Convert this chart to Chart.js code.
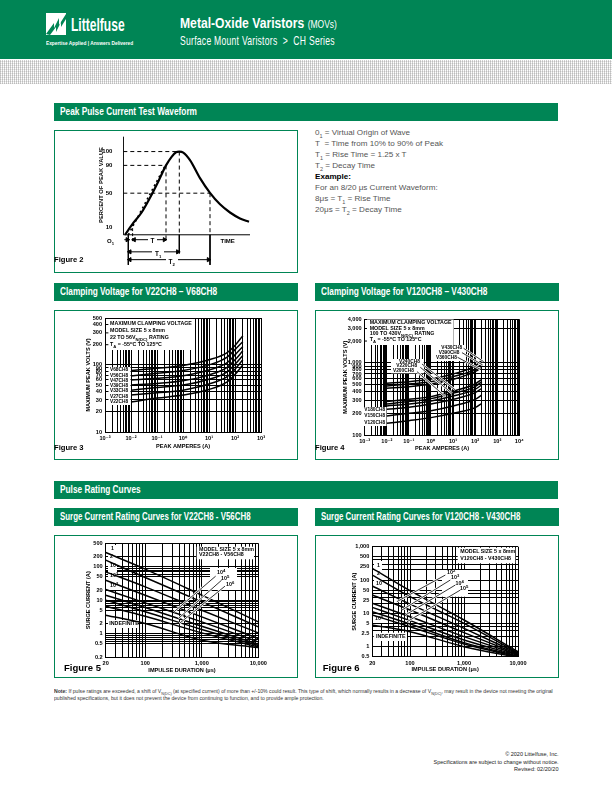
<!DOCTYPE html>
<html>
<head>
<meta charset="utf-8">
<title>CH Series</title>
<script src="https://cdn.jsdelivr.net/npm/chart.js@4"></script>
<style>
html, body { margin: 0; padding: 0; background: #fff; }
body { position: relative; width: 612px; height: 792px; overflow: hidden; font-family: "Liberation Sans", Arial, sans-serif; color: #000; }
.abs { position: absolute; white-space: nowrap; transform-origin: left center; }
.green { position: absolute; background: #008555; }
.band { position: absolute; background: #008555; color: #fff; font: bold 10px/18px "Liberation Sans", sans-serif; padding-left: 6px; box-sizing: border-box; height: 18px; white-space: nowrap; overflow: hidden; }
.band span { display: inline-block; transform: scaleX(.83); transform-origin: left center; }
.box { position: absolute; border: 1px solid #008555; box-sizing: border-box; }
canvas { position: absolute; }
.dots { position: absolute; left: 0; top: 60px; width: 612px; height: 24px;
  background-image:
    repeating-linear-gradient(90deg, #cfcfcf 0 1px, #fff 1px 2px),
    repeating-linear-gradient(0deg, #e8e8e8 0 1px, #fff 1px 2px);
  background-blend-mode: multiply; }
.note { position: absolute; white-space: nowrap; transform: translateY(-50%); font: bold 5.3px/1 "Liberation Sans", sans-serif; }
.note sub { font-size: 4.2px; line-height: 0; }
.note sup { font-size: 4.2px; line-height: 0; }
.side { position: absolute; left: 315px; white-space: nowrap; transform: translateY(-50%); font: 8.1px/1 "Liberation Sans", sans-serif; color: #555; }
.side sub { font-size: 5.5px; line-height: 0; }
.fig { position: absolute; white-space: nowrap; transform: translateY(-50%); font: bold 7.6px/1 "Liberation Sans", sans-serif; }
</style>
</head>
<body>
<div class="green" style="left:0;top:0;width:612px;height:59px"></div>
<div class="dots"></div>

<svg style="position:absolute;left:46px;top:13px" width="20" height="22" viewBox="0 0 20 22">
  <rect width="20" height="22" fill="#fff"/>
  <path d="M0 21 L8 10 L8 15 L13 5 L13 12 L20 1 L20 6 L15 14 L15 9 L10 19 L10 14 L4 22 Z" fill="#008555"/>
</svg>
<div class="abs" style="left:71px;top:16px;color:#fff;font:bold 18px/1 'Liberation Sans',sans-serif;transform:scaleX(.67)">Littelfuse</div>
<div class="abs" style="left:46px;top:46px;color:#fff;font:bold 6px/1 'Liberation Sans',sans-serif;transform:scaleX(.8);margin-top:-6px">Expertise Applied | Answers Delivered</div>
<div class="abs" style="left:180px;top:15px;color:#fff;font:bold 15px/1 'Liberation Sans',sans-serif;transform:scaleX(.81)">Metal-Oxide Varistors <span style="font:10.5px 'Liberation Sans',sans-serif">(MOVs)</span></div>
<div class="abs" style="left:180px;top:34px;color:#fff;font:13px/1 'Liberation Sans',sans-serif;letter-spacing:.4px;transform:scaleX(.66)">Surface Mount Varistors&nbsp; &gt;&nbsp; CH Series</div>

<div class="band" style="left:54px;top:103px;width:504px"><span>Peak Pulse Current Test Waveform</span></div>
<div class="band" style="left:54px;top:283px;width:244px"><span>Clamping Voltage for V22CH8 – V68CH8</span></div>
<div class="band" style="left:315px;top:283px;width:244px"><span>Clamping Voltage for V120CH8 – V430CH8</span></div>
<div class="band" style="left:54px;top:481px;width:504px"><span>Pulse Rating Curves</span></div>
<div class="band" style="left:54px;top:508px;width:244px"><span style="transform:scaleX(.79)">Surge Current Rating Curves for V22CH8 - V56CH8</span></div>
<div class="band" style="left:315px;top:508px;width:244px"><span style="transform:scaleX(.79)">Surge Current Rating Curves for V120CH8 - V430CH8</span></div>

<div class="box" style="left:54px;top:130px;width:244px;height:143px"></div>
<div class="box" style="left:54px;top:310px;width:244px;height:150px"></div>
<div class="box" style="left:315px;top:310px;width:244px;height:150px"></div>
<div class="box" style="left:54px;top:535px;width:244px;height:143px"></div>
<div class="box" style="left:315px;top:535px;width:244px;height:143px"></div>

<canvas id="fig2" style="left:54px;top:130px" width="244" height="143"></canvas>
<canvas id="fig3" style="left:54px;top:310px" width="244" height="150"></canvas>
<canvas id="fig4" style="left:315px;top:310px" width="244" height="150"></canvas>
<canvas id="fig5" style="left:54px;top:535px" width="244" height="143"></canvas>
<canvas id="fig6" style="left:315px;top:535px" width="244" height="143"></canvas>

<div class="side" style="top:133px">0<sub>1</sub> = Virtual Origin of Wave</div>
<div class="side" style="top:144px">T&nbsp; = Time from 10% to 90% of Peak</div>
<div class="side" style="top:155px">T<sub>1</sub> = Rise Time = 1.25 x T</div>
<div class="side" style="top:166px">T<sub>2</sub> = Decay Time</div>
<div class="side" style="top:177px;font-weight:bold;color:#000">Example:</div>
<div class="side" style="top:188px">For an 8/20 μs Current Waveform:</div>
<div class="side" style="top:199px">8μs = T<sub>1</sub> = Rise Time</div>
<div class="side" style="top:210px">20μs = T<sub>2</sub> = Decay Time</div>

<div class="abs" style="left:54px;top:688px;font:5.6px/7px 'Liberation Sans',sans-serif;color:#333;transform:scaleX(.915);transform-origin:left top"><b>Note:</b> If pulse ratings are exceeded, a shift of V<sub style="font-size:4px;line-height:0">N(DC)</sub> (at specified current) of more than +/-10% could result. This type of shift, which normally results in a decrease of V<sub style="font-size:4px;line-height:0">N(DC)</sub>, may result in the device not meeting the original<br>published specifications, but it does not prevent the device from continuing to function, and to provide ample protection.</div>
<div class="abs" style="right:54px;top:751px;text-align:right;font:5.8px/7.5px 'Liberation Sans',sans-serif;color:#222;transform:scaleX(.95);transform-origin:right top">© 2020 Littelfuse, Inc.<br>Specifications are subject to change without notice.<br>Revised: 02/20/20</div>

<script>
// Figure 2 waveform (time in arbitrary units from O1, percent as drawn on the schematic)
const waveTime = [-3.3, 5, 13.3, 21.7, 30, 37.7, 43.3, 47.7, 51, 55, 61.7, 71.7, 81.7, 91.7, 101.7, 111.7, 120.7];
const wavePercent = [0, 14.2, 26.8, 44.5, 64.1, 83.4, 93.7, 99.2, 100, 98.8, 89.7, 68.1, 50.4, 36.6, 26.8, 19.7, 15.7];
const fig2YTicks = [9, 50, 83.4, 100];
const fig2YLabels = ['10', '50', '90', '100'];

// Figure 3
const fig3Amps = [0.01, 0.1, 1, 10, 50, 100, 200];
const v22 = [28, 32, 35.5, 43, 56, 72, 100];
const v27 = [35.5, 38.4, 42, 51.8, 66.8, 86, 119];
const v33 = [42, 46, 50, 61, 79, 102, 138];
const v39 = [50, 53, 58, 71, 92, 119, 162];
const v47 = [59.6, 63, 69, 84, 108, 141, 188];
const v56 = [68.4, 75, 82.5, 100, 131, 169, 222];
const v68 = [82.5, 89, 98, 119, 153, 195, 272];
const fig3XLabelValues = [0.001, 0.01, 0.1, 1, 10, 100, 1000];
const fig3XLabels = ['10⁻³', '10⁻²', '10⁻¹', '10⁰', '10¹', '10²', '10³'];
const fig3YTicks = [10, 20, 30, 40, 50, 60, 70, 80, 90, 100, 200, 300, 400, 500];
const fig3YLabels = ['10', '20', '30', '40', '50', '60', '70', '80', '90', '100', '200', '300', '400', '500'];

// Figure 4
const fig4Amps = [0.01, 0.1, 1, 10, 100, 200];
const v120 = [145, 158, 174, 200, 239, 275];
const v150 = [183, 200, 217, 252, 312, 358];
const v180 = [227, 242, 269, 312, 386, 443];
const v200 = [252, 269, 296, 347, 429, 493];
const v220 = [269, 290, 319, 378, 467, 548];
const v240 = [290, 312, 340, 407, 509, 590];
const v360 = [443, 467, 509, 590, 754, 866];
const v390 = [477, 509, 548, 643, 812, 962];
const v430 = [519, 548, 597, 700, 903, 1094];
const fig4XLabelValues = [0.001, 0.01, 0.1, 1, 10, 100, 1000, 10000];
const fig4XLabels = ['10⁻³', '10⁻²', '10⁻¹', '10⁰', '10¹', '10²', '10³', '10⁴'];
const fig4YTicks = [100, 200, 300, 400, 500, 600, 700, 800, 900, 1000, 2000, 3000, 4000];
const fig4YLabels = ['100', '200', '300', '400', '500', '600', '700', '800', '900', '1,000', '2,000', '3,000', '4,000'];

// Figure 5
const fig5Micros = [20, 100, 1000, 10000];
const f5once = [265, 85, 14.2, 2.28];
const f5twice = [157, 47.8, 9, 1.62];
const f5e1 = [70.5, 25.2, 5.07, 1.07];
const f5e2 = [39.8, 14.2, 3.21, 0.726];
const f5e3 = [21, 8.4, 2.28, 0.578];
const f5e4 = [14.2, 6.1, 1.69, 0.492];
const f5e5 = [10.1, 4.53, 1.35, 0.449];
const f5e6 = [6.68, 3.36, 1.07, 0.41];
const f5indef = [3.6, 2.03, 0.647, 0.389];
const fig5XTicks = [20, 30, 40, 50, 60, 70, 80, 90, 100, 200, 300, 400, 500, 600, 700, 800, 900, 1000, 2000, 3000, 4000, 5000, 6000, 7000, 8000, 9000, 10000];
const fig5XLabelValues = [20, 100, 1000, 10000];
const fig5XLabels = ['20', '100', '1,000', '10,000'];
const fig5YTicks = [0.2, 0.5, 0.6, 0.7, 0.8, 0.9, 1, 2, 5, 6, 7, 8, 9, 10, 20, 50, 60, 70, 80, 90, 100, 200, 500];
const fig5YLabelValues = [0.2, 0.5, 1, 2, 5, 10, 20, 50, 100, 200, 500];
const fig5YLabels = ['0.2', '0.5', '1', '2', '5', '10', '20', '50', '100', '200', '500'];

// Figure 6
const f6once = [224, 47.9, 6.31, 0.708];
const f6twice = [141, 31.6, 5.01, 0.66];
const f6e1 = [66, 19, 3.55, 0.63];
const f6e2 = [35.5, 12.6, 2.63, 0.6];
const f6e3 = [20, 7.94, 2, 0.575];
const f6e4 = [15.1, 6.03, 1.58, 0.55];
const f6e5 = [11.2, 4.79, 1.32, 0.525];
const f6e6 = [8.9, 3.98, 1.2, 0.5];
const f6indef = [4.47, 2.82, 1, 0.48];
const fig6YTicks = [0.5, 1, 2, 2.5, 3, 4, 5, 10, 20, 25, 30, 40, 50, 100, 200, 250, 300, 400, 500, 1000];
const fig6YLabelValues = [0.5, 1, 2.5, 5, 10, 25, 50, 100, 250, 500, 1000];
const fig6YLabels = ['0.5', '1', '2.5', '5', '10', '25', '50', '100', '250', '500', '1,000'];

function decades(lo, hi) {
    const out = [];
    for (let e = lo; e < hi; e++) {
        for (let m = 1; m < 10; m++) out.push(Number(m + 'e' + e));
    }
    out.push(Number('1e' + hi));
    return out;
}

function pairs(xs, ys) {
    return xs.map((x, i) => ({ x: x, y: ys[i] }));
}

function curve(xs, ys) {
    return { data: pairs(xs, ys), borderColor: '#000', borderWidth: 1.5, pointRadius: 0, cubicInterpolationMode: 'monotone', order: 3, clip: true };
}

// leader line with the white edge it has in the print
function leader(a, b) {
    return [
        { data: [a, b], borderColor: '#000', borderWidth: 0.8, pointRadius: 0, order: 1 },
        { data: [a, b], borderColor: '#fff', borderWidth: 2.2, pointRadius: 0, order: 2 }
    ];
}

function labelFor(values, labels) {
    return v => {
        const i = values.findIndex(l => Math.abs(v / l - 1) < 1e-6);
        return i < 0 ? '' : labels[i];
    };
}

function note(text, x, y, extra) {
    const el = document.createElement('div');
    el.className = 'note';
    el.innerHTML = text;
    el.style.left = x + 'px';
    el.style.top = y + 'px';
    if (extra) el.style.cssText += extra;
    document.body.appendChild(el);
}

function figLabel(text, x, y, size) {
    const el = document.createElement('div');
    el.className = 'fig';
    el.textContent = text;
    el.style.left = x + 'px';
    el.style.top = y + 'px';
    if (size) el.style.fontSize = size + 'px';
    document.body.appendChild(el);
}

const tickFont = { family: "'Liberation Sans', 'DejaVu Sans', sans-serif", size: 5.6, weight: 'bold' };
const partFont = 'font-size:4.8px';

function logChart(id, f) {
    const [bx, by, bw, bh] = f.box;
    const [px, py, pw, ph] = f.plot;
    const whiteBoxes = {
        id: 'whiteBoxes',
        beforeDatasetsDraw(chart) {
            chart.ctx.save();
            chart.ctx.fillStyle = '#fff';
            f.rects.forEach(r => chart.ctx.fillRect(r[0] - bx, r[1] - by, r[2] - r[0], r[3] - r[1]));
            chart.ctx.restore();
        }
    };
    return new Chart(document.getElementById(id), {
        type: 'line',
        data: { datasets: f.datasets },
        plugins: [whiteBoxes],
        options: {
            responsive: false,
            animation: false,
            devicePixelRatio: 1,
            events: [],
            layout: { padding: { left: 0, top: py - by, right: bx + bw - px - pw, bottom: 0 } },
            plugins: { legend: { display: false }, tooltip: { enabled: false } },
            scales: {
                x: {
                    type: 'logarithmic', min: f.xLim[0], max: f.xLim[1],
                    afterBuildTicks: s => { s.ticks = f.xTicks.map(v => ({ value: v })); },
                    afterFit: s => { s.height = by + bh - py - ph; },
                    grid: { color: '#000', lineWidth: 1, drawTicks: false },
                    border: { color: '#000', width: 1 },
                    ticks: { autoSkip: false, maxRotation: 0, minRotation: 0, padding: 3, color: '#000', font: tickFont, callback: f.xLabel },
                    title: { display: true, text: f.xTitle, color: '#000', font: tickFont, padding: { top: 0, bottom: by + bh - f.xTitleY - 3 } }
                },
                y: {
                    type: 'logarithmic', min: f.yLim[0], max: f.yLim[1],
                    afterBuildTicks: s => { s.ticks = f.yTicks.map(v => ({ value: v })); },
                    afterFit: s => { s.width = px - bx; },
                    grid: { color: c => (c.tick && f.noGrid.includes(c.tick.value) ? 'rgba(0,0,0,0)' : '#000'), lineWidth: 1, drawTicks: false },
                    border: { color: '#000', width: 1 },
                    ticks: { autoSkip: false, padding: 3, color: '#000', font: tickFont, callback: f.yLabel },
                    title: { display: true, text: f.yTitle, color: '#000', font: tickFont, padding: { top: f.yTitleX - bx - 3, bottom: 0 } }
                }
            }
        }
    });
}

// Figure 2, schematic on plain linear scales
function line(points, width, dash) {
    return { data: points, borderColor: '#000', borderWidth: width, borderDash: dash || [], pointRadius: 0 };
}
function arrow(x1, x2, y) {
    return { data: [{ x: x1, y: y }, { x: x2, y: y }], borderColor: '#000', backgroundColor: '#000', borderWidth: 1, pointStyle: 'triangle', pointRadius: 2.4, pointRotation: [-90, 90] };
}
const dashA = [4, 3];
const peakX = 51, riseX = 37.7, decayX = 81.7, tenX = 4.3, axisX = -5;
new Chart(document.getElementById('fig2'), {
    type: 'line',
    data: {
        datasets: [
            Object.assign(line(pairs(waveTime, wavePercent), 2.2), { cubicInterpolationMode: 'monotone' }),
            line([{ x: 0, y: 0 }, { x: 37, y: 83.4 }], 1.6, [2, 3]),
            line([{ x: axisX, y: 118 }, { x: axisX, y: 0 }], 1),
            line([{ x: axisX, y: 0 }, { x: 121.7, y: 0 }], 1),
            line([{ x: axisX, y: 100 }, { x: peakX, y: 100 }], 1, dashA),
            line([{ x: axisX, y: 83.4 }, { x: riseX, y: 83.4 }], 1, dashA),
            line([{ x: axisX, y: 50 }, { x: decayX, y: 50 }], 1, dashA),
            line([{ x: riseX, y: 83.4 }, { x: riseX, y: -6.7 }], 1, dashA),
            line([{ x: peakX, y: 100 }, { x: peakX, y: 0 }], 1, dashA),
            line([{ x: decayX, y: 50 }, { x: decayX, y: 0 }], 1, dashA),
            line([{ x: tenX, y: 14 }, { x: tenX, y: -8.7 }], 1, [3, 2]),
            line([{ x: peakX, y: 0 }, { x: peakX, y: -22.4 }], 1),
            line([{ x: decayX, y: 0 }, { x: decayX, y: -36.2 }], 1),
            line([{ x: 0, y: 0 }, { x: 0, y: -36.2 }], 1),
            arrow(tenX + 1.5, riseX - 1.5, -5.9),
            arrow(1.5, peakX - 1.5, -20.5),
            arrow(1.5, decayX - 1.5, -29.9),
            Object.assign(line([{ x: -4, y: -5.9 }, { x: -1, y: -5.9 }], 1), { pointRadius: [0, 2.4], pointStyle: 'triangle', pointRotation: 90, backgroundColor: '#000' })
        ]
    },
    options: {
        responsive: false,
        animation: false,
        devicePixelRatio: 1,
        events: [],
        layout: { padding: { left: 0, top: 6, right: 48, bottom: 5 } },
        plugins: { legend: { display: false }, tooltip: { enabled: false } },
        scales: {
            x: { type: 'linear', display: false, min: axisX, max: 121.7 },
            y: {
                type: 'linear', min: -38, max: 118,
                afterBuildTicks: s => { s.ticks = fig2YTicks.map(v => ({ value: v })); },
                afterFit: s => { s.width = 69.3; },
                grid: { display: false },
                border: { display: false },
                ticks: { autoSkip: false, padding: 3, color: '#000', font: Object.assign({}, tickFont, { size: 6 }), callback: labelFor(fig2YTicks, fig2YLabels) }
            }
        }
    }
});
note('PERCENT OF PEAK VALUE', 102, 185, 'transform:translate(-50%,-50%) rotate(-90deg);font-size:5.8px');
note('O<sub>1</sub>', 107, 241, 'font-size:6px');
note('T', 147.5, 240.5, 'background:#fff;padding:0 3px;font-size:6.4px');
note('T<sub>1</sub>', 152, 253.5, 'background:#fff;padding:0 3px;font-size:6.4px');
note('T<sub>2</sub>', 165.5, 261.5, 'background:#fff;padding:0 3px;font-size:6.4px');
note('TIME', 220.5, 241, 'font-size:6px');
figLabel('Figure 2', 54, 260);

// Figure 3
const f3Lines = [v22, v27, v33, v39, v47, v56, v68].map(v => curve(fig3Amps, v));
f3Lines.push({ data: [{ x: 0.001, y: 200 }, { x: 0.00135, y: 200 }, { x: null, y: null }, { x: 0.001, y: 300 }, { x: 0.00135, y: 300 }, { x: null, y: null }, { x: 0.001, y: 400 }, { x: 0.00135, y: 400 }], borderColor: '#000', borderWidth: 1, pointRadius: 0, order: 4 });
logChart('fig3', {
    box: [54, 310, 244, 150], plot: [105, 318, 156, 114], xLim: [0.001, 1000], yLim: [10, 500],
    xTicks: decades(-3, 3), yTicks: fig3YTicks, noGrid: [200, 300, 400],
    xLabel: labelFor(fig3XLabelValues, fig3XLabels), yLabel: labelFor(fig3YTicks, fig3YLabels),
    xTitle: 'PEAK AMPERES (A)', yTitle: 'MAXIMUM PEAK VOLTS (V)', xTitleY: 447, yTitleX: 88,
    datasets: f3Lines,
    rects: [[108.5, 319, 194, 350], [108.5, 367, 130.5, 405]]
});
note('MAXIMUM CLAMPING VOLTAGE', 110, 324);
note('MODEL SIZE 5 x 8mm', 110, 331);
note('22 TO 56V<sub>N(DC)</sub> RATING', 110, 338);
note('T<sub>A</sub> = -55<sup>o</sup>C TO 125<sup>o</sup>C', 110, 345);
['V68CH8', 'V56CH8', 'V47CH8', 'V39CH8', 'V33CH8', 'V27CH8', 'V22CH8'].forEach((t, i) => {
    note(t, 110, [370, 375.7, 381, 386, 390.7, 397, 402][i], partFont);
});
figLabel('Figure 3', 54, 448);

// Figure 4
let f4Lines = [v120, v150, v180, v200, v220, v240, v360, v390, v430].map(v => curve(fig4Amps, v));
f4Lines = f4Lines.concat(
    leader({ x: 30, y: 1587 }, { x: 243, y: 1037 }),
    leader({ x: 25.4, y: 1381 }, { x: 218, y: 933 }),
    leader({ x: 16, y: 1191 }, { x: 171, y: 812 }),
    leader({ x: 0.393, y: 962 }, { x: 12.7, y: 420 }),
    leader({ x: 0.33, y: 866 }, { x: 8.95, y: 378 }),
    leader({ x: 0.233, y: 754 }, { x: 4.47, y: 340 })
);
f4Lines.push({ data: [{ x: 0.001, y: 2000 }, { x: 0.00127, y: 2000 }], borderColor: '#000', borderWidth: 1, pointRadius: 0, order: 4 });
logChart('fig4', {
    box: [315, 310, 244, 150], plot: [364.7, 319.3, 154.6, 115.7], xLim: [0.001, 10000], yLim: [100, 4000],
    xTicks: decades(-3, 4), yTicks: fig4YTicks, noGrid: [2000],
    xLabel: labelFor(fig4XLabelValues, fig4XLabels), yLabel: labelFor(fig4YTicks, fig4YLabels),
    xTitle: 'PEAK AMPERES (A)', yTitle: 'MAXIMUM PEAK VOLTS (V)', xTitleY: 449, yTitleX: 345,
    datasets: f4Lines,
    rects: [[367, 319.5, 453.7, 345], [363.7, 407, 386.5, 426], [391, 359, 423.7, 373.3], [435, 345, 464, 361]]
});
note('MAXIMUM CLAMPING VOLTAGE', 369.7, 322.7);
note('MODEL SIZE 5 x 8mm', 369.7, 329);
note('100 TO 430V<sub>N(DC)</sub> RATING', 369.7, 334);
note('T<sub>A</sub> = -55<sup>o</sup>C TO 125<sup>o</sup>C', 369.7, 340);
note('V180CH8', 364.3, 410, partFont);
note('V150CH8', 364.3, 416, partFont);
note('V120CH8', 364.3, 422.7, partFont);
note('V240CH8', 399, 361.7, partFont);
note('V220CH8', 396.3, 366.3, partFont);
note('V200CH8', 393, 370.7, partFont);
note('V430CH8', 441.3, 347.7, partFont);
note('V390CH8', 438.7, 352.7, partFont);
note('V360CH8', 436, 357.7, partFont);
figLabel('Figure 4', 315, 448);

// Figure 5
let f5Lines = [f5once, f5twice, f5e1, f5e2, f5e3, f5e4, f5e5, f5e6, f5indef].map(v => curve(fig5Micros, v));
f5Lines = f5Lines.concat(
    leader({ x: 1760, y: 52.4 }, { x: 323, y: 4.53 }),
    leader({ x: 2245, y: 39.8 }, { x: 385, y: 2.86 }),
    leader({ x: 2574, y: 26.4 }, { x: 401, y: 2.03 })
);
logChart('fig5', {
    box: [54, 535, 244, 143], plot: [105.7, 543.3, 152.6, 114], xLim: [20, 10000], yLim: [0.2, 500],
    xTicks: fig5XTicks, yTicks: fig5YTicks, noGrid: [],
    xLabel: labelFor(fig5XLabelValues, fig5XLabels), yLabel: labelFor(fig5YLabelValues, fig5YLabels),
    xTitle: 'IMPULSE DURATION (μs)', yTitle: 'SURGE CURRENT (A)', xTitleY: 670.5, yTitleX: 88,
    datasets: f5Lines,
    rects: [[196.7, 546.7, 254, 559.3], [210, 568, 237, 590], [108, 620, 138, 628], [108, 545, 117, 590]]
});
note('MODEL SIZE 5 x 8mm', 199, 550);
note('V22CH8 - V56CH8', 199, 555);
note('1', 111, 549);
note('2', 110, 557.3);
note('10', 110, 566);
note('10<sup>2</sup>', 110, 576);
note('10<sup>3</sup>', 110, 586);
note('10<sup>4</sup>', 217, 572.7);
note('10<sup>5</sup>', 221, 579.3);
note('10<sup>6</sup>', 226, 585.3);
note('INDEFINITE', 109.3, 624.3);
figLabel('Figure 5', 64, 668, 9.5);

// Figure 6
let f6Lines = [f6once, f6twice, f6e1, f6e2, f6e3, f6e4, f6e5, f6e6, f6indef].map(v => curve(fig5Micros, v));
f6Lines = f6Lines.concat(
    leader({ x: 451, y: 141 }, { x: 57, y: 22.4 }),
    leader({ x: 557, y: 100 }, { x: 71, y: 12.6 }),
    leader({ x: 690, y: 70.8 }, { x: 82, y: 8.9 }),
    leader({ x: 855, y: 50 }, { x: 88, y: 5.6 })
);
logChart('fig6', {
    box: [315, 535, 244, 143], plot: [372.3, 546.7, 145.7, 110], xLim: [20, 10000], yLim: [0.5, 1000],
    xTicks: fig5XTicks, yTicks: fig6YTicks, noGrid: [2.5, 25, 250],
    xLabel: labelFor(fig5XLabelValues, fig5XLabels), yLabel: labelFor(fig6YLabelValues, fig6YLabels),
    xTitle: 'IMPULSE DURATION (μs)', yTitle: 'SURGE CURRENT (A)', xTitleY: 670, yTitleX: 354,
    datasets: f6Lines,
    rects: [[457.7, 547.7, 515.3, 563.3], [442, 570, 468, 596.7], [373.7, 632.7, 407, 641], [374, 561, 382, 590], [374, 615, 386, 623]]
});
note('MODEL SIZE 5 x 8mm', 460.3, 551.7);
note('V120CH8 - V430CH8', 460.3, 559);
note('1', 377, 565.7);
note('2', 377, 574);
note('10', 376, 584);
note('10<sup>6</sup>', 375, 619);
note('10<sup>2</sup>', 447, 572.7);
note('10<sup>3</sup>', 451, 578.3);
note('10<sup>4</sup>', 455.5, 584);
note('10<sup>5</sup>', 460, 589.3);
note('INDEFINITE', 376, 636.7);
figLabel('Figure 6', 322.7, 668, 9.5);
</script>
</body>
</html>
